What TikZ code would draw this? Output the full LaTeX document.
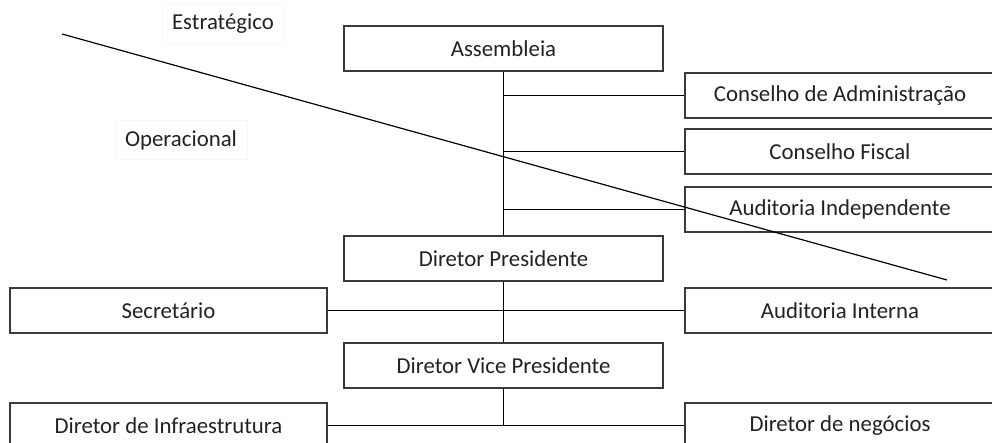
\documentclass[tikz,border=0pt]{standalone}
\usepackage{fontspec}
\setmainfont{Carlito}
\usepackage{tikz}
\usetikzlibrary{positioning, calc}
\definecolor{linhaCaixa}{HTML}{3A3A3A}
\definecolor{textoCaixa}{HTML}{222222}

\begin{document}
\begin{tikzpicture}[
        x=0.5pt, y=-0.5pt,
        cx/.style={draw=linhaCaixa, line width=0.75pt, fill=white, inner sep=0pt,
            minimum height=22.5pt, align=center, text=textoCaixa,
            font=\fontsize{11.4}{13}\selectfont},
        centro/.style={cx, minimum width=159.5pt},
        lado/.style={cx, minimum width=155pt},
        esq/.style={cx, minimum width=158.5pt},
        nivel/.style={draw=black!3, inner sep=5pt, text=textoCaixa,
            font=\fontsize{11.4}{13}\selectfont},
        lig/.style={draw=black, line width=0.6pt}
    ]
        \useasboundingbox (0,0) rectangle (992,443);

        % coluna central
        \node[centro] (assembleia) at (503.5,48.5) {Assembleia};
        \node[centro] (presidente) at (503.5,258.5) {Diretor Presidente};
        \node[centro] (vice) at (503.5,365.5) {Diretor Vice Presidente};

        % conselhos e auditorias
        \node[lado] (admin) at (840,95.5) {Conselho de Administração};
        \node[lado] (fiscal) at (840,151.5) {Conselho Fiscal};
        \node[lado] (audext) at (840,209.5) {Auditoria Independente};
        \node[lado] (audint) at (840,310.5) {Auditoria Interna};
        \node[esq] (secretario) at (168.5,310.5) {Secretário};

        % diretorias
        \node[esq] (infra) at (168.5,425.5) {Diretor de Infraestrutura};
        \node[lado] (negocios) at (840,425.5) {Diretor de negócios};

        % niveis
        \node[nivel] (estrat) at (223,24) {Estratégico};
        \node[nivel] (operac) at (181,140) {Operacional};

        \draw[lig] (assembleia) -- (presidente);
        \draw[lig] (presidente) -- (vice);
        \draw[lig] (vice.south) -- (vice.south |- infra.east);
        \draw[lig] (assembleia.south |- admin.west) -- (admin.west);
        \draw[lig] (assembleia.south |- fiscal.west) -- (fiscal.west);
        \draw[lig] (assembleia.south |- audext.west) -- (audext.west);
        \draw[lig] (secretario) -- (audint);
        \draw[lig] (infra) -- (negocios);

        % linha de corte
        \coordinate (corteA) at (62,34);
        \coordinate (corteB) at (947,280);
        \draw[lig] (corteA) -- (corteB);
    \end{tikzpicture}
\end{document}
